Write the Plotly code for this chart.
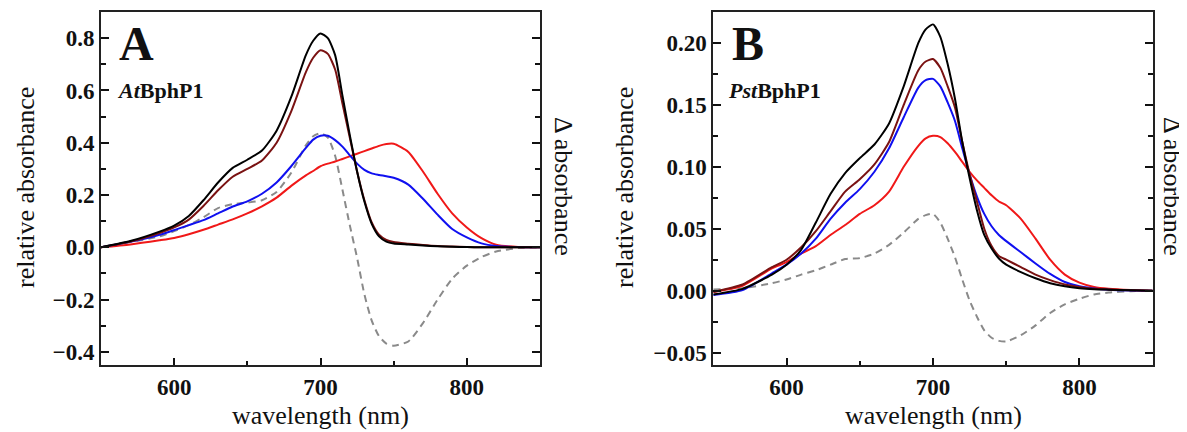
import plotly.graph_objects as go

# ---------------- data ----------------
wavelength = [550, 570, 590, 600, 610, 620, 630, 640, 650, 660, 670, 680, 690, 695,
              700, 705, 710, 715, 720, 725, 730, 735, 740, 745, 750, 760, 770, 780,
              790, 800, 810, 820, 835, 850]

# Panel A: AtBphP1
a_black = [0, 0.024, 0.06, 0.083, 0.12, 0.18, 0.248, 0.304, 0.335, 0.37, 0.446, 0.575, 0.735, 0.79,
           0.818, 0.8, 0.735, 0.58, 0.43, 0.29, 0.175, 0.09, 0.042, 0.022, 0.015, 0.011, 0.007, 0.004,
           0.002, 0.001, 0, 0, 0, 0]
a_darkred = [0, 0.022, 0.055, 0.076, 0.106, 0.158, 0.218, 0.27, 0.3, 0.332, 0.4, 0.52, 0.67, 0.725,
             0.754, 0.74, 0.68, 0.55, 0.42, 0.29, 0.18, 0.095, 0.048, 0.028, 0.02, 0.014, 0.009, 0.005,
             0.003, 0.001, 0, 0, 0, 0]
a_blue = [0, 0.021, 0.048, 0.066, 0.085, 0.104, 0.13, 0.156, 0.176, 0.205, 0.248, 0.31, 0.38, 0.412,
          0.427, 0.427, 0.41, 0.385, 0.352, 0.32, 0.296, 0.283, 0.277, 0.272, 0.266, 0.24, 0.186, 0.125,
          0.07, 0.038, 0.015, 0.005, 0.001, 0]
a_red = [0, 0.011, 0.027, 0.036, 0.05, 0.067, 0.087, 0.107, 0.13, 0.157, 0.19, 0.235, 0.275, 0.292,
         0.31, 0.32, 0.328, 0.338, 0.348, 0.358, 0.368, 0.378, 0.388, 0.395, 0.396, 0.365, 0.29, 0.205,
         0.13, 0.076, 0.035, 0.01, 0.001, 0]
a_diff = [0, 0.02, 0.042, 0.062, 0.085, 0.115, 0.15, 0.165, 0.171, 0.18, 0.212, 0.285, 0.39, 0.425,
          0.436, 0.42, 0.35, 0.22, 0.085, -0.04, -0.18, -0.28, -0.34, -0.368, -0.376, -0.36, -0.29, -0.2,
          -0.12, -0.07, -0.037, -0.016, -0.003, 0]

# Panel B: PstBphP1
b_black = [-0.003, 0.0015, 0.013, 0.021, 0.033, 0.055, 0.078, 0.095, 0.107, 0.118, 0.135, 0.165, 0.2, 0.211,
           0.215, 0.205, 0.183, 0.155, 0.12, 0.091, 0.065, 0.045, 0.034, 0.026, 0.021, 0.015, 0.01, 0.006,
           0.0035, 0.002, 0.0012, 0.0008, 0.0003, 0]
b_darkred = [-0.001, 0.005, 0.019, 0.025, 0.035, 0.048, 0.064, 0.08, 0.09, 0.102, 0.12, 0.15, 0.178, 0.185,
             0.187, 0.18, 0.165, 0.148, 0.12, 0.094, 0.072, 0.05, 0.036, 0.028, 0.025, 0.019, 0.013, 0.0085,
             0.005, 0.003, 0.0015, 0.001, 0.0003, 0]
b_blue = [-0.0035, 0.0005, 0.014, 0.021, 0.03, 0.042, 0.058, 0.071, 0.082, 0.096, 0.115, 0.14, 0.164, 0.17,
          0.171, 0.165, 0.152, 0.137, 0.115, 0.094, 0.076, 0.062, 0.052, 0.045, 0.04, 0.031, 0.022, 0.0135,
          0.007, 0.0035, 0.0018, 0.0008, 0.0002, 0]
b_red = [-0.001, 0.004, 0.018, 0.023, 0.03, 0.036, 0.045, 0.053, 0.062, 0.069, 0.08, 0.1, 0.117, 0.123,
         0.125, 0.124, 0.119, 0.112, 0.104, 0.096, 0.089, 0.083, 0.077, 0.072, 0.069, 0.058, 0.042, 0.025,
         0.013, 0.0065, 0.003, 0.0015, 0.0005, 0]
b_diff = [0.001, 0.002, 0.006, 0.009, 0.013, 0.0165, 0.021, 0.0255, 0.0263, 0.03, 0.037, 0.047, 0.058, 0.061,
          0.062, 0.055, 0.042, 0.027, 0.009, -0.008, -0.021, -0.032, -0.038, -0.0405, -0.041, -0.036, -0.028, -0.018,
          -0.011, -0.0065, -0.003, -0.0015, -0.0004, 0]

x_ticks = [600, 700, 800]
a_yticks = [-0.4, -0.2, 0.0, 0.2, 0.4, 0.6, 0.8]
b_yticks = [-0.05, 0.00, 0.05, 0.10, 0.15, 0.20]

# ---------------- styling ----------------
FONT = "Liberation Serif"
C_BLACK = "#000000"
C_DARKRED = "#7a1212"
C_BLUE = "#1010f0"
C_RED = "#f01818"
C_GRAY = "#8a8a8a"

fig = go.Figure()

def add_panel(xa, ya, black, darkred, blue, red, diff):
    sm = 0.6
    fig.add_trace(go.Scatter(x=wavelength, y=diff, mode="lines", line=dict(color=C_GRAY, width=2, dash="7px,5px", shape="spline", smoothing=sm), xaxis=xa, yaxis=ya, showlegend=False))
    fig.add_trace(go.Scatter(x=wavelength, y=red, mode="lines", line=dict(color=C_RED, width=2, shape="spline", smoothing=sm), xaxis=xa, yaxis=ya, showlegend=False))
    fig.add_trace(go.Scatter(x=wavelength, y=blue, mode="lines", line=dict(color=C_BLUE, width=2, shape="spline", smoothing=sm), xaxis=xa, yaxis=ya, showlegend=False))
    fig.add_trace(go.Scatter(x=wavelength, y=darkred, mode="lines", line=dict(color=C_DARKRED, width=2, shape="spline", smoothing=sm), xaxis=xa, yaxis=ya, showlegend=False))
    fig.add_trace(go.Scatter(x=wavelength, y=black, mode="lines", line=dict(color=C_BLACK, width=2, shape="spline", smoothing=sm), xaxis=xa, yaxis=ya, showlegend=False))

add_panel("x", "y", a_black, a_darkred, a_blue, a_red, a_diff)
add_panel("x2", "y2", b_black, b_darkred, b_blue, b_red, b_diff)

tickfont = dict(family=FONT, size=23, color="#111", weight="bold")
common_x = dict(range=[550, 850], tickvals=x_ticks, ticks="inside", ticklen=7, tickwidth=1.5,
                tickcolor="#111", showline=True, linecolor="#222", linewidth=2, mirror=True,
                showgrid=False, zeroline=False, tickfont=tickfont,
                minor=dict(ticks="inside", ticklen=4, tickwidth=1.5, tickcolor="#111", dtick=50, tick0=550, showgrid=False))
common_y = dict(ticks="inside", ticklen=8, tickwidth=1.5, tickcolor="#111", showline=True,
                linecolor="#222", linewidth=2, mirror="ticks", showgrid=False, zeroline=False,
                tickfont=tickfont)

# The page body adds an 8px offset; work in page pixels and convert.
OFF = 8
W, H = 1187 - OFF, 432 - OFF

def px(x):
    return (x - OFF) / W

def py(y):
    return 1 - (y - OFF) / H

ax_dom = [px(101), px(540)]
bx_dom = [px(713.3), px(1152.7)]
y_dom = [py(365), py(12)]

fig.update_layout(
    width=W, height=H, margin=dict(l=0, r=0, t=0, b=0),
    paper_bgcolor="white", plot_bgcolor="white",
    xaxis=dict(domain=ax_dom, anchor="y", **common_x),
    xaxis2=dict(domain=bx_dom, anchor="y2", **common_x),
    yaxis=dict(domain=y_dom, anchor="x", range=[-0.45, 0.9], tickvals=a_yticks, tickformat=".1f",
               minor=dict(ticks="inside", ticklen=5, tickwidth=1.5, tickcolor="#111", dtick=0.1, tick0=0, showgrid=False),
               **common_y),
    yaxis2=dict(domain=y_dom, anchor="x2", range=[-0.06, 0.225], tickvals=b_yticks, tickformat=".2f",
                minor=dict(ticks="inside", ticklen=5, tickwidth=1.5, tickcolor="#111", dtick=0.025, tick0=0, showgrid=False),
                **common_y),
)

title_font = dict(family=FONT, size=26, color="#111")
ann = []
for xc in [(101 + 540) / 2, (713.3 + 1152.7) / 2]:
    ann.append(dict(text="wavelength (nm)", x=px(xc), y=py(415), xref="paper", yref="paper",
                    showarrow=False, font=title_font, xanchor="center", yanchor="middle"))
for xc in [25, 624]:
    ann.append(dict(text="relative absorbance", x=px(xc), y=py(188), xref="paper", yref="paper",
                    showarrow=False, font=title_font, textangle=-90, xanchor="center", yanchor="middle"))
for xc in [563, 1172]:
    ann.append(dict(text="Δ absorbance", x=px(xc), y=py(186), xref="paper", yref="paper",
                    showarrow=False, font=title_font, textangle=90, xanchor="center", yanchor="middle"))
ann.append(dict(text="<b>A</b>", x=px(117), y=py(44), xref="paper", yref="paper", showarrow=False,
                font=dict(family=FONT, size=48, color="#111"), xanchor="left", yanchor="middle"))
ann.append(dict(text="<b>B</b>", x=px(730), y=py(44), xref="paper", yref="paper", showarrow=False,
                font=dict(family=FONT, size=48, color="#111"), xanchor="left", yanchor="middle"))
ann.append(dict(text="<b><i>At</i>BphP1</b>", x=px(115), y=py(90), xref="paper", yref="paper", showarrow=False,
                font=dict(family=FONT, size=22, color="#111"), xanchor="left", yanchor="middle"))
ann.append(dict(text="<b><i>Pst</i>BphP1</b>", x=px(726), y=py(90), xref="paper", yref="paper", showarrow=False,
                font=dict(family=FONT, size=22, color="#111"), xanchor="left", yanchor="middle"))
fig.update_layout(annotations=ann)

fig.write_html("out.html")
